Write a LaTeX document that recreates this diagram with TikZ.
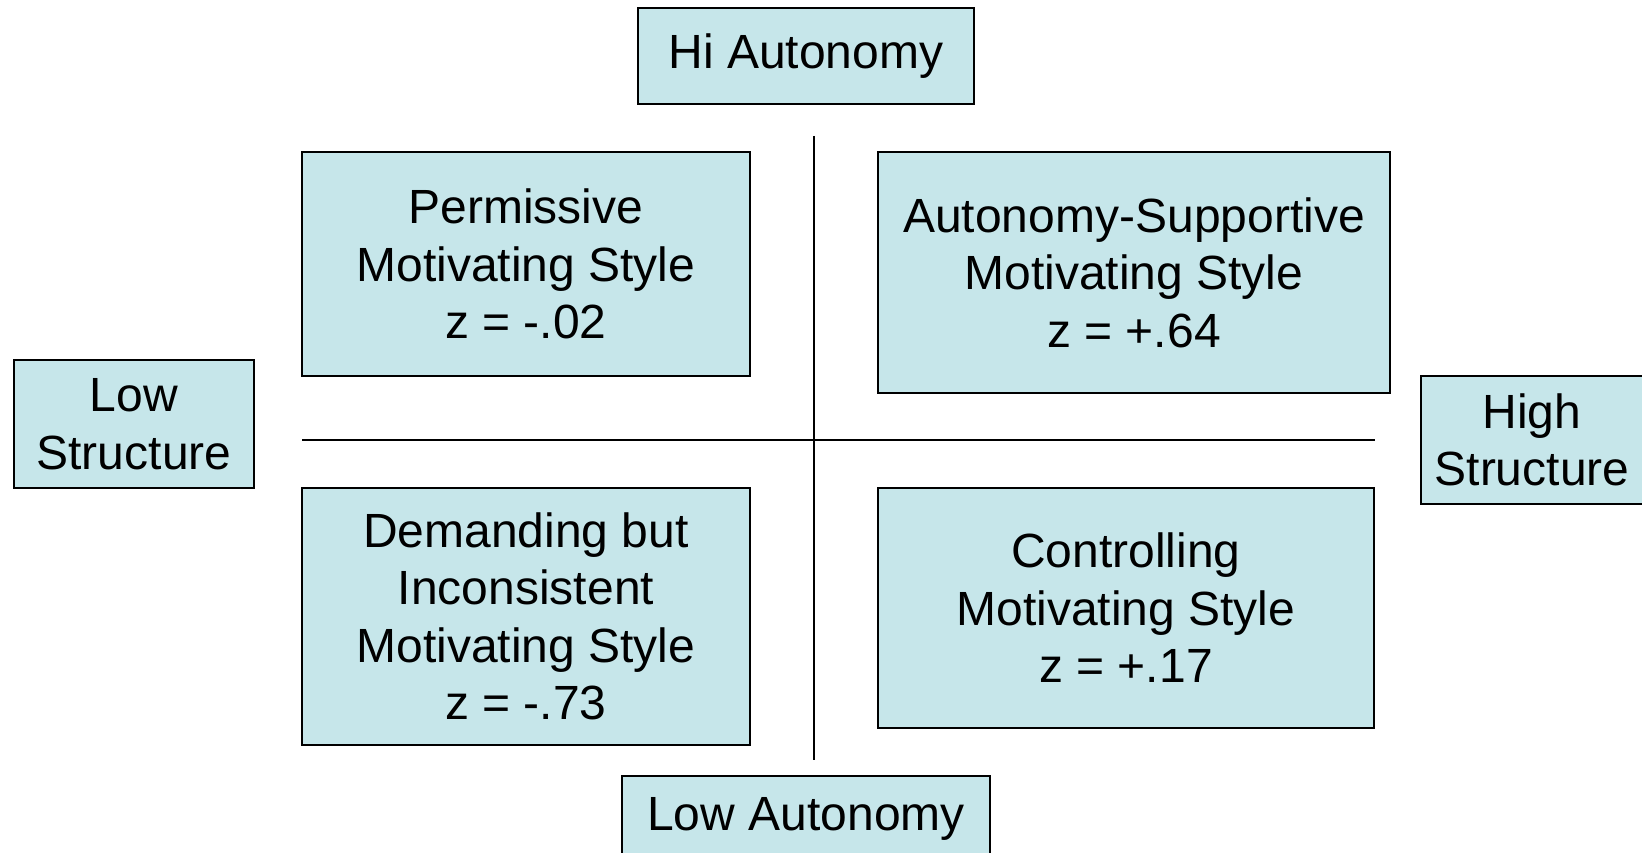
\documentclass[tikz,border=0pt]{standalone}
\usepackage{fontspec}
\setmainfont{Liberation Sans}
\definecolor{boxfill}{RGB}{198,230,234}
\begin{document}
\begin{tikzpicture}[x=1pt,y=-1pt,
  qbox/.style={draw=black,fill=boxfill,line width=1.3pt,inner sep=0pt,align=center,
    font=\fontsize{48}{57.5}\selectfont},
  axisline/.style={draw=black,line width=1.6pt}]
\useasboundingbox (0,0) rectangle (1642,853);
% labels on axes
\node[qbox,minimum width=336pt,minimum height=96pt] (hiaut) at (806,56) {Hi Autonomy};
\node[qbox,minimum width=368pt,minimum height=86pt] (lowaut) at (806,819) {Low Autonomy};
\node[qbox,minimum width=240pt,minimum height=128pt] (lowstr) at (134,424) {Low\\Structure};
\node[qbox,minimum width=222pt,minimum height=128pt] (highstr) at (1532,440) {High\\Structure};
% quadrants
\node[qbox,minimum width=448pt,minimum height=224pt] (perm) at (526,264) {Permissive\\Motivating Style\\z = -.02};
\node[qbox,minimum width=512pt,minimum height=241pt] (auts) at (1134,272.5) {Autonomy-Supportive\\Motivating Style\\z = +.64};
\node[qbox,minimum width=448pt,minimum height=257pt] (dem) at (526,616.5) {Demanding but\\Inconsistent\\Motivating Style\\z = -.73};
\node[qbox,minimum width=496pt,minimum height=240pt] (ctrl) at (1126,608) {Controlling\\Motivating Style\\z = +.17};
% axes
\coordinate (vtop) at (814,136);
\coordinate (vbot) at (814,760);
\coordinate (hleft) at (302,440);
\coordinate (hright) at (1375,440);
\draw[axisline] (vtop) -- (vbot);
\draw[axisline] (hleft) -- (hright);
\end{tikzpicture}
\end{document}
